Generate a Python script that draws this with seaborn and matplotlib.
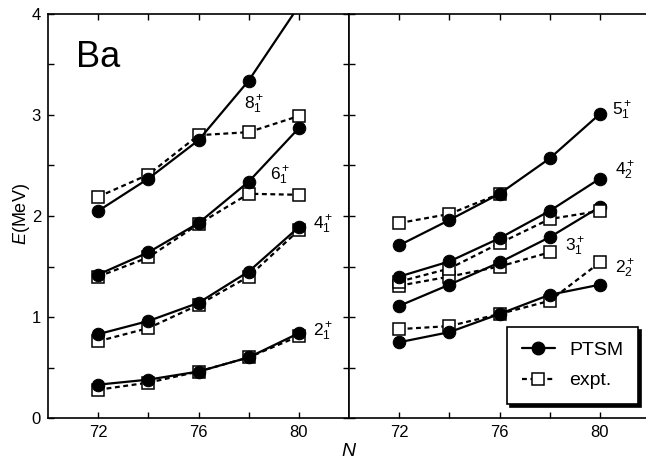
import matplotlib
matplotlib.use("Agg")
import matplotlib.pyplot as plt
from matplotlib.lines import Line2D
import seaborn as sns

# %%
# Ba excitation energies (MeV) vs neutron number N, PTSM calc vs experiment
N = [72, 74, 76, 78, 80]

# left panel: yrast levels
ptsm_2_1 = [0.33, 0.38, 0.46, 0.60, 0.84]
expt_2_1 = [0.28, 0.35, 0.46, 0.60, 0.81]
ptsm_4_1 = [0.83, 0.96, 1.14, 1.45, 1.89]
expt_4_1 = [0.76, 0.89, 1.12, 1.40, 1.86]
ptsm_6_1 = [1.42, 1.64, 1.93, 2.34, 2.87]
expt_6_1 = [1.40, 1.59, 1.92, 2.22, 2.21]
ptsm_8_1 = [2.05, 2.37, 2.75, 3.34, 4.08]
expt_8_1 = [2.19, 2.41, 2.80, 2.83, 2.99]

# right panel: non-yrast levels
ptsm_2_2 = [0.75, 0.85, 1.03, 1.22, 1.32]
expt_2_2 = [0.88, 0.91, 1.03, 1.16, 1.54]
ptsm_3_1 = [1.11, 1.32, 1.54, 1.79, 2.09]
expt_3_1 = [1.31, 1.40, 1.50, 1.64]
ptsm_4_2 = [1.40, 1.55, 1.78, 2.05, 2.37]
expt_4_2 = [1.35, 1.48, 1.73, 1.97, 2.05]
ptsm_5_1 = [1.71, 1.96, 2.22, 2.57, 3.01]
expt_5_1 = [1.93, 2.02, 2.22]

left_levels = [
    (ptsm_2_1, expt_2_1, r"$2_1^+$", 80.55, 0.85),
    (ptsm_4_1, expt_4_1, r"$4_1^+$", 80.55, 1.91),
    (ptsm_6_1, expt_6_1, r"$6_1^+$", 78.85, 2.40),
    (ptsm_8_1, expt_8_1, r"$8_1^+$", 77.8, 3.10),
]
right_levels = [
    (ptsm_2_2, expt_2_2, r"$2_2^+$", 80.6, 1.48),
    (ptsm_3_1, expt_3_1, r"$3_1^+$", 78.6, 1.70),
    (ptsm_4_2, expt_4_2, r"$4_2^+$", 80.6, 2.45),
    (ptsm_5_1, expt_5_1, r"$5_1^+$", 80.5, 3.04),
]

# %%
sns.set_style("ticks")
plt.rcParams["font.family"] = ["Liberation Sans", "DejaVu Sans"]
plt.rcParams["mathtext.fontset"] = "custom"
plt.rcParams["mathtext.rm"] = "Liberation Sans"
plt.rcParams["mathtext.it"] = "Liberation Sans:italic"
plt.rcParams["mathtext.bf"] = "Liberation Sans:bold"
for key in ["text.color", "axes.labelcolor", "axes.edgecolor", "xtick.color", "ytick.color"]:
    plt.rcParams[key] = "black"

DASH = (0, (2.2, 1.6))
solid_kw = dict(color="black", linewidth=1.6, marker="o", markersize=9,
                markerfacecolor="black", markeredgecolor="black")
dash_kw = dict(color="black", linewidth=1.6, linestyle=DASH, marker="s", markersize=8,
               markerfacecolor="white", markeredgecolor="black", markeredgewidth=1.1)

fig = plt.figure(figsize=(6.46, 4.65), dpi=100)
ax1 = fig.add_axes([48 / 646, 47 / 465, 301 / 646, 404 / 465])
ax2 = fig.add_axes([349 / 646, 47 / 465, 301 / 646, 404 / 465])

for ax, levels in [(ax1, left_levels), (ax2, right_levels)]:
    for ptsm, expt, lab, tx, ty in levels:
        sns.lineplot(x=N[:len(expt)], y=expt, ax=ax, errorbar=None, sort=False,
                     legend=False, **dash_kw)
        sns.lineplot(x=N[:len(ptsm)], y=ptsm, ax=ax, errorbar=None, sort=False,
                     legend=False, **solid_kw)
        ax.text(tx, ty, lab, fontsize=12.5, ha="left", va="center")

    ax.set_xlim(70, 82)
    ax.set_ylim(0, 4)
    ax.set_xticks([72, 76, 80])
    ax.set_xticks([74, 78], minor=True)
    ax.set_yticks([0, 1, 2, 3, 4])
    ax.set_yticks([0.5, 1.5, 2.5, 3.5], minor=True)
    ax.tick_params(which="both", direction="in", top=True, right=True,
                   length=4, width=1, labelsize=12, pad=5)
    ax.set_xlabel("")
    ax.set_ylabel("")
    for sp in ax.spines.values():
        sp.set_linewidth(1.2)

ax2.tick_params(which="both", labelleft=False, right=False)
ax1.text(71.1, 3.57, "Ba", fontsize=26, ha="left", va="center")

fig.text(0.034, 0.54, r"$E$(MeV)", rotation=90, fontsize=13, ha="center", va="center")
fig.text(0.540, 0.028, r"$N$", fontsize=14, ha="center", va="center")

handles = [Line2D([], [], **solid_kw), Line2D([], [], **dash_kw)]
leg = ax2.legend(handles, ["PTSM", "expt."], loc="upper left",
                 bbox_to_anchor=(507 / 646, 1 - 327 / 465), bbox_transform=fig.transFigure,
                 frameon=True, fancybox=False, edgecolor="black", framealpha=1,
                 shadow={"color": "black", "alpha": 1}, fontsize=14,
                 handlelength=1.7, handletextpad=0.75, borderpad=0.75,
                 labelspacing=0.65, borderaxespad=0)
leg.get_frame().set_linewidth(1.2)

fig.savefig("out.png", dpi=100)
